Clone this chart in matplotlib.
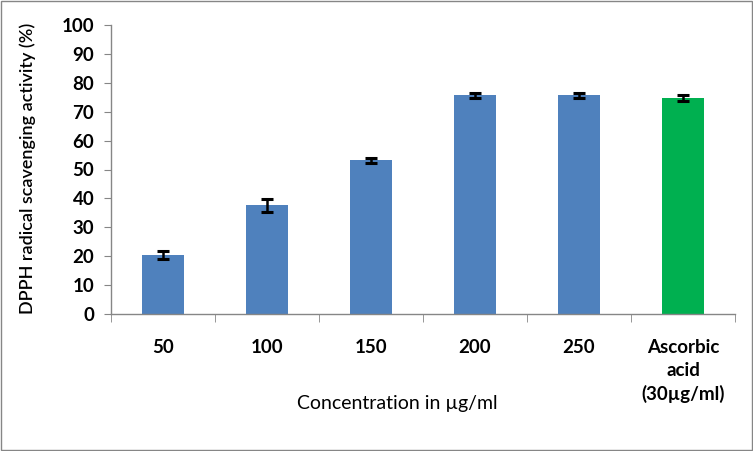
import matplotlib
matplotlib.use("Agg")
import matplotlib.pyplot as plt
from matplotlib.patches import Rectangle

categories = ["50", "100", "150", "200", "250", "Ascorbic\nacid\n(30\u00b5g/ml)"]
values = [20.3, 37.6, 53.2, 75.7, 75.7, 74.8]
errors = [1.4, 2.2, 0.9, 0.8, 0.8, 1.1]
colors = ["#4F81BD"] * 5 + ["#00B050"]
yticks = list(range(0, 101, 10))

plt.rcParams['font.family'] = ['Lato', 'DejaVu Sans']

fig = plt.figure(figsize=(7.53, 4.51), dpi=100)
ax = fig.add_axes([111/753, 1-314/451, (735-111)/753, (314-25)/451])

x = list(range(len(categories)))
ax.bar(x, values, width=0.4, color=colors, zorder=2)
ax.errorbar(x, values, yerr=errors, fmt='none', ecolor='black', elinewidth=1.8,
            capsize=4, capthick=2.2, zorder=3)

ax.set_xlim(-0.5, len(categories) - 0.5)
ax.set_ylim(0, 100)
ax.set_yticks(yticks)
ax.set_yticklabels([str(t) for t in yticks], fontsize=13.5, fontweight='bold')
ax.set_xticks(x)
ax.set_xticklabels(categories, fontsize=13.5, fontweight='bold', linespacing=1.4, va='top')
ax.set_xticks([i - 0.5 for i in range(len(categories) + 1)], minor=True)
ax.tick_params(axis='x', which='major', length=0, pad=18)
ax.tick_params(axis='x', which='minor', length=6, color='#868686', direction='out')
ax.tick_params(axis='y', length=5, color='#868686', direction='out', pad=7)

for side in ['top', 'right']:
    ax.spines[side].set_visible(False)
for side in ['left', 'bottom']:
    ax.spines[side].set_color('#868686')
    ax.spines[side].set_linewidth(1)

fig.text(28/753, 1-168/451, "DPPH radical scavenging activity (%)", rotation=90,
         ha='center', va='center', fontsize=13, fontweight='semibold')
fig.text(397/753, 1-404/451, "Concentration in \u00b5g/ml", ha='center', va='center',
         fontsize=14)

fig.patches.append(Rectangle((1/753, 1/451), 751/753, 449/451, transform=fig.transFigure,
                             fill=False, edgecolor='#868686', linewidth=1))

fig.savefig("out.png", dpi=100)
